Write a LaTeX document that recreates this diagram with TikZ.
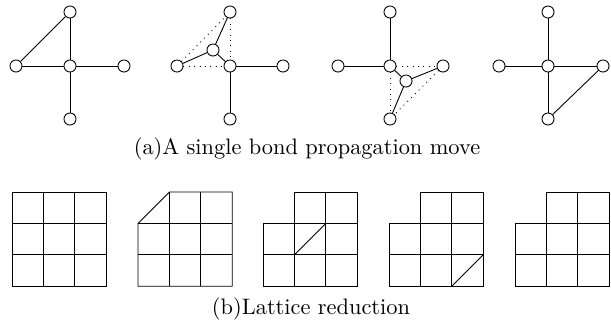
\documentclass[tikz,border=0pt]{standalone}
\usepackage{tikz}
\usetikzlibrary{positioning}

\begin{document}
\begin{tikzpicture}[
    x=0.447pt, y=-0.447pt,
    vert/.style={circle, draw, fill=white, inner sep=0pt,
                 minimum size=5.4pt},
    bond/.style={draw},
    ghost/.style={draw, dotted},
    caption/.style={font=\normalsize}
]
  \useasboundingbox (0,0) rectangle (611,322);

  % (a) bond propagation: four stages
  % stage 1
  \node[vert] (c1) at (70,66)  {};
  \node[vert] (t1) at (70,12)  {};
  \node[vert] (l1) at (16,66)  {};
  \node[vert] (r1) at (124,66) {};
  \node[vert] (b1) at (70,119) {};
  \draw[bond] (l1) -- (c1) -- (r1);
  \draw[bond] (t1) -- (c1) -- (b1);
  \draw[bond] (l1) -- (t1);

  % stage 2
  \node[vert] (c2) at (230,66)  {};
  \node[vert] (t2) at (230,12)  {};
  \node[vert] (l2) at (177,66)  {};
  \node[vert] (r2) at (283,66)  {};
  \node[vert] (b2) at (230,119) {};
  \node[vert] (m2) at (213,50)  {};
  \draw[ghost] (l2) -- (t2);
  \draw[ghost] (t2) -- (c2);
  \draw[ghost] (l2) -- (c2);
  \draw[bond] (m2) -- (t2);
  \draw[bond] (m2) -- (l2);
  \draw[bond] (m2) -- (c2);
  \draw[bond] (c2) -- (r2);
  \draw[bond] (c2) -- (b2);

  % stage 3
  \node[vert] (c3) at (390,66)  {};
  \node[vert] (t3) at (390,12)  {};
  \node[vert] (l3) at (338,66)  {};
  \node[vert] (r3) at (443,66)  {};
  \node[vert] (b3) at (390,119) {};
  \node[vert] (m3) at (406,81)  {};
  \draw[ghost] (c3) -- (r3);
  \draw[ghost] (c3) -- (b3);
  \draw[ghost] (r3) -- (b3);
  \draw[bond] (m3) -- (c3);
  \draw[bond] (m3) -- (r3);
  \draw[bond] (m3) -- (b3);
  \draw[bond] (l3) -- (c3);
  \draw[bond] (t3) -- (c3);

  % stage 4
  \node[vert] (c4) at (548,66)  {};
  \node[vert] (t4) at (548,12)  {};
  \node[vert] (l4) at (499,66)  {};
  \node[vert] (r4) at (603,66)  {};
  \node[vert] (b4) at (548,119) {};
  \draw[bond] (l4) -- (c4) -- (r4);
  \draw[bond] (t4) -- (c4) -- (b4);
  \draw[bond] (r4) -- (b4);

  \node[caption] (capa) at (307,149) {(a)A single bond propagation move};

  % (b) lattice reduction
  % full lattice
  \begin{scope}[shift={(12,192)}, scale=31.4]
    \draw (0,0) rectangle (3,3);
    \foreach \i in {1,2} {
      \draw (\i,0) -- (\i,3);
      \draw (0,\i) -- (3,\i);
    }
  \end{scope}

  % corner cut by a diagonal
  \begin{scope}[shift={(138,192)}, scale=31.4]
    \draw (1,0) -- (3,0) -- (3,3) -- (0,3) -- (0,1) -- cycle;
    \foreach \i in {1,2} {
      \draw (\i,0) -- (\i,3);
      \draw (0,\i) -- (3,\i);
    }
  \end{scope}

  % diagonal moved to the centre
  \begin{scope}[shift={(263,192)}, scale=31.4]
    \draw (1,0) -- (3,0) -- (3,3) -- (0,3) -- (0,1) -- (1,1) -- cycle;
    \foreach \i in {1,2} {
      \draw (\i,0) -- (\i,3);
      \draw (0,\i) -- (3,\i);
    }
    \draw (1,2) -- (2,1);
  \end{scope}

  % diagonal at the far corner
  \begin{scope}[shift={(389,192)}, scale=31.4]
    \draw (1,0) -- (3,0) -- (3,3) -- (0,3) -- (0,1) -- (1,1) -- cycle;
    \foreach \i in {1,2} {
      \draw (\i,0) -- (\i,3);
      \draw (0,\i) -- (3,\i);
    }
    \draw (2,3) -- (3,2);
  \end{scope}

  % reduced lattice
  \begin{scope}[shift={(515,192)}, scale=31.4]
    \draw (1,0) -- (3,0) -- (3,3) -- (0,3) -- (0,1) -- (1,1) -- cycle;
    \foreach \i in {1,2} {
      \draw (\i,0) -- (\i,3);
      \draw (0,\i) -- (3,\i);
    }
  \end{scope}

  \node[caption] (capb) at (311,309) {(b)Lattice reduction};
\end{tikzpicture}
\end{document}
